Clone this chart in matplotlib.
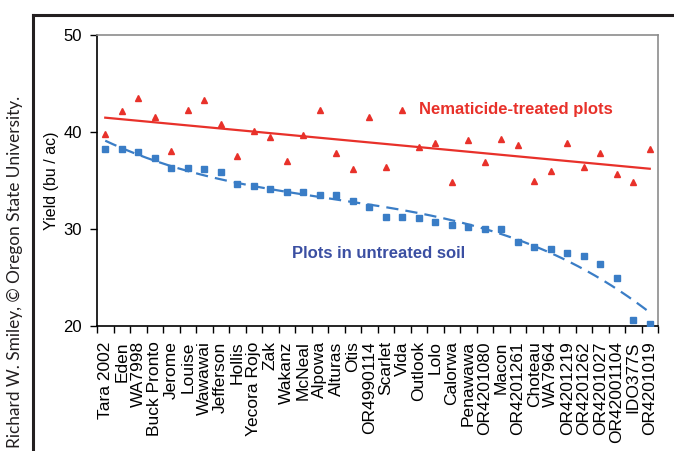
import numpy as np
import matplotlib
matplotlib.use('Agg')
from matplotlib import pyplot as plt
from matplotlib.lines import Line2D

plt.rcParams['font.family'] = ['Liberation Sans', 'DejaVu Sans']

varieties = ['Tara 2002', 'Eden', 'WA7998', 'Buck Pronto', 'Jerome', 'Louise', 'Wawawai',
             'Jefferson', 'Hollis', 'Yecora Rojo', 'Zak', 'Wakanz', 'McNeal', 'Alpowa',
             'Alturas', 'Otis', 'OR4990114', 'Scarlet', 'Vida', 'Outlook', 'Lolo', 'Calorwa',
             'Penawawa', 'OR4201080', 'Macon', 'OR4201261', 'Choteau', 'WA7964',
             'OR4201219', 'OR4201262', 'OR4201027', 'OR42001104', 'IDO377S', 'OR4201019']

# yield with nematicide (bu/ac)
treated = [39.8, 42.2, 43.5, 41.5, 38.0, 42.3, 43.3, 40.8, 37.5, 40.1, 39.5, 37.0,
           39.7, 42.3, 37.8, 36.2, 41.5, 36.4, 42.3, 38.5, 38.9, 34.8, 39.2, 36.9,
           39.3, 38.7, 34.9, 36.0, 38.9, 36.4, 37.8, 35.7, 34.8, 38.2]
# yield in untreated soil (bu/ac)
untreated = [38.2, 38.2, 37.9, 37.3, 36.3, 36.3, 36.2, 35.9, 34.6, 34.4, 34.1, 33.8,
             33.8, 33.5, 33.5, 32.9, 32.3, 31.2, 31.2, 31.1, 30.7, 30.4, 30.2, 30.0,
             30.0, 28.7, 28.1, 27.9, 27.5, 27.2, 26.4, 24.9, 20.65, 20.2]

red = '#e8312a'
blue = '#3a7dc6'

x = np.arange(1, len(varieties) + 1)

fig = plt.figure(figsize=(6.74, 4.51), dpi=100)
ax = fig.add_axes([97 / 674, 1 - 326 / 451, (658 - 97) / 674, (326 - 35) / 451])

# trend lines (linear for treated, cubic for untreated)
xs = np.linspace(1, len(varieties), 200)
p_red = np.polyfit(x, treated, 1)
ax.plot(xs, np.polyval(p_red, xs), color=red, lw=1.6, zorder=2)
p_blue = np.polyfit(x, untreated, 3)
ax.plot(xs, np.polyval(p_blue, xs), color=blue, lw=1.6, ls=(0, (5.5, 3.2)), zorder=2)

ax.plot(x, treated, '^', color=red, ms=4.5, mec=red, zorder=3)
ax.plot(x, untreated, 's', color=blue, ms=4.2, mec=blue, zorder=3)

ax.text(20.0, 42.3, 'Nematicide-treated plots', color=red, fontsize=12, fontweight='bold',
        ha='left', va='center')
ax.text(12.3, 27.5, 'Plots in untreated soil', color='#3b4fa2', fontsize=12, fontweight='bold',
        ha='left', va='center')

ax.set_xlim(0.5, len(varieties) + 0.5)
ax.set_ylim(20, 50)
ax.set_yticks([20, 30, 40, 50])
ax.set_xticks(x)
ax.set_xticklabels(varieties, rotation=90, fontsize=12.5)
ax.set_xticks(np.arange(0.5, len(varieties) + 1), minor=True)
ax.tick_params(axis='x', which='major', length=0, pad=11)
ax.tick_params(axis='x', which='minor', length=5, width=1, direction='out')
ax.tick_params(axis='y', length=5, width=1, direction='out', labelsize=12, pad=6)
ax.set_ylabel('Yield (bu / ac)', fontsize=11.5, labelpad=3)

for s in ['left', 'bottom']:
    ax.spines[s].set_color('black')
    ax.spines[s].set_linewidth(1.2)
for s in ['top', 'right']:
    ax.spines[s].set_color('#8c8c8c')
    ax.spines[s].set_linewidth(1.2)

# outer frame
fig.add_artist(Line2D([33 / 674, 1], [1 - 15 / 451, 1 - 15 / 451], color='#231f20', lw=2.2))
fig.add_artist(Line2D([33 / 674, 33 / 674], [0, 1 - 15 / 451], color='#231f20', lw=2.2))

fig.text(15 / 674, 3 / 451, 'Richard W. Smiley, \u00a9 Oregon State University.', rotation=90,
         ha='center', va='bottom', fontsize=12.4, color='#231f20', family=['Lato', 'DejaVu Sans'])

fig.savefig('out.png', dpi=100)
